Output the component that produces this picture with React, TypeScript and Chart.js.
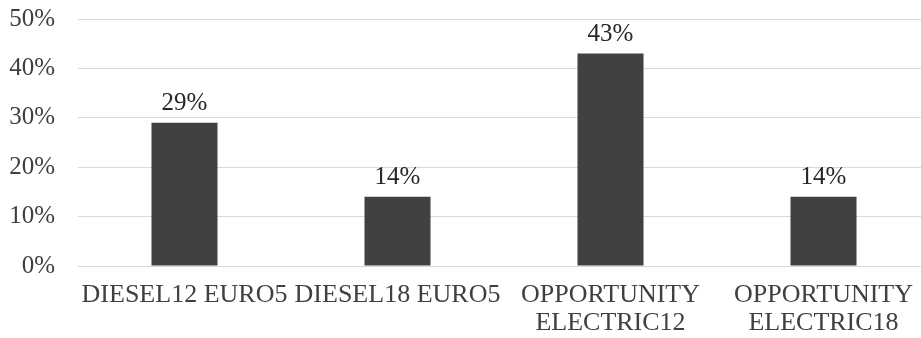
import React, { useEffect, useRef } from "react";
import { Chart, registerables } from "chart.js";

Chart.register(...registerables);

const categories: (string | string[])[] = [
  "DIESEL12 EURO5",
  "DIESEL18 EURO5",
  ["OPPORTUNITY", "ELECTRIC12"],
  ["OPPORTUNITY", "ELECTRIC18"],
];
const shareValues: number[] = [29, 14, 43, 14];
const yTickValues: number[] = [0, 10, 20, 30, 40, 50];

const FONT = '"Liberation Serif", "Times New Roman", Times, serif';

const dataLabelPlugin = {
  id: "dataLabels",
  afterDatasetsDraw(chart: any) {
    const ctx = chart.ctx;
    const meta = chart.getDatasetMeta(0);
    ctx.save();
    ctx.font = `25px ${FONT}`;
    ctx.fillStyle = "#262626";
    ctx.textAlign = "center";
    ctx.textBaseline = "alphabetic";
    meta.data.forEach((el: any, i: number) => {
      ctx.fillText(`${shareValues[i]}%`, el.x, el.y - 13);
    });
    ctx.restore();
  },
};

export default function App() {
  const canvasRef = useRef<HTMLCanvasElement | null>(null);

  useEffect(() => {
    let chart: Chart | null = null;
    let cancelled = false;
    const build = () => {
      if (cancelled || !canvasRef.current) return;
      chart = new Chart(canvasRef.current, {
        type: "bar",
        data: {
          labels: categories,
          datasets: [
            {
              data: shareValues,
              backgroundColor: "#414042",
              borderWidth: 0,
              categoryPercentage: 1,
              barPercentage: 0.31,
            },
          ],
        },
        plugins: [dataLabelPlugin],
        options: {
          animation: false,
          responsive: false,
          maintainAspectRatio: false,
          layout: { padding: { top: 19, right: 0, left: 0, bottom: 0 } },
          plugins: {
            legend: { display: false },
            tooltip: { enabled: false },
          },
          scales: {
            x: {
              grid: { display: false, drawTicks: false },
              border: { display: true, color: "#d9d9d9", width: 1 },
              ticks: {
                color: "#404040",
                font: { family: FONT, size: 26, lineHeight: 1.08 },
                padding: 15,
                maxRotation: 0,
                autoSkip: false,
              },
              afterFit: (s: any) => {
                s.height = 72;
                s.paddingLeft = 0;
                s.paddingRight = 0;
              },
            },
            y: {
              min: 0,
              max: 50,
              afterBuildTicks: (s: any) => {
                s.ticks = yTickValues.map((v) => ({ value: v }));
              },
              grid: { color: "#d9d9d9", drawTicks: false },
              border: { display: false },
              ticks: {
                color: "#404040",
                font: { family: FONT, size: 25 },
                padding: 23,
                callback: (v: any) => `${v}%`,
              },
              afterFit: (s: any) => {
                s.width = 78;
                s.paddingTop = 0;
                s.paddingBottom = 0;
              },
            },
          },
        },
      });
    };
    const fontsApi: any = (document as any).fonts;
    if (fontsApi && fontsApi.load) {
      fontsApi.load('24px "Liberation Serif"').then(build, build);
    } else {
      build();
    }
    return () => {
      cancelled = true;
      if (chart) chart.destroy();
    };
  }, []);

  return (
    <div
      style={{
        position: "fixed",
        left: 0,
        top: 0,
        width: 921,
        height: 338,
        overflow: "hidden",
        background: "#ffffff",
      }}
    >
      <canvas
        ref={canvasRef}
        width={930}
        height={338}
        style={{ display: "block", width: 930, height: 338 }}
      />
    </div>
  );
}
